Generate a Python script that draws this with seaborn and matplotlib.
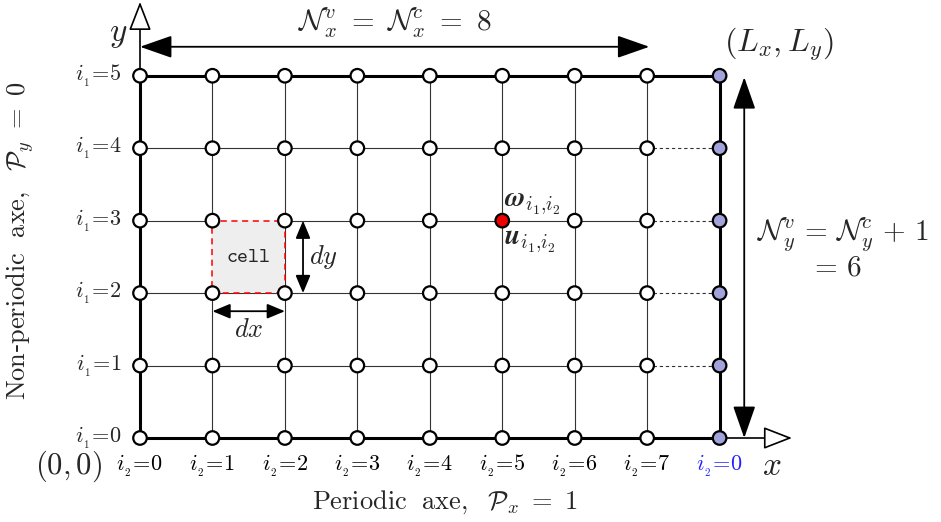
import numpy as np
import pandas as pd
import matplotlib
matplotlib.use("Agg")
import matplotlib.pyplot as plt
import seaborn as sns
from matplotlib.patches import Rectangle, FancyArrowPatch

# grid description
n_cells_x = 8
n_cells_y = 5
col_index = [0, 1, 2, 3, 4, 5, 6, 7, 8]
row_index = [0, 1, 2, 3, 4, 5]
i2_labels = ['0', '1', '2', '3', '4', '5', '6', '7', '0']
i1_labels = ['0', '1', '2', '3', '4', '5']
highlight_node = (5, 3)
cell_corner = (1, 2)

sns.set_theme(style="white")
plt.rcParams['mathtext.fontset'] = 'cm'
plt.rcParams['font.family'] = ['DejaVu Serif']

fig = plt.figure(figsize=(9.41, 5.22), dpi=100)
ax = fig.add_axes([0, 0, 1, 1])
scale = 72.45
ax.set_xlim(-140 / scale, (941 - 140) / scale)
ax.set_ylim(-84 / scale, 438 / scale)
ax.set_aspect('equal')
ax.axis('off')

# thin inner grid lines
for i in col_index[1:-1]:
    ax.plot([i, i], [0, n_cells_y], color='#333333', lw=0.8, zorder=1)
for j in row_index[1:-1]:
    ax.plot([0, n_cells_x - 1], [j, j], color='#333333', lw=0.8, zorder=1)
    ax.plot([n_cells_x - 1, n_cells_x], [j, j], color='#333333', lw=0.8,
            ls=(0, (3, 2.5)), zorder=1)

# thick outer border
ax.plot([0, n_cells_x, n_cells_x, 0, 0], [0, 0, n_cells_y, n_cells_y, 0],
        color='black', lw=2.2, zorder=2, solid_joinstyle='miter')

# the highlighted cell
cx, cy = cell_corner
ax.add_patch(Rectangle((cx, cy), 1, 1, facecolor='#eeeeee', edgecolor='red',
                       lw=1.1, ls=(0, (4, 3)), zorder=1.5))
ax.text(cx + 0.5, cy + 0.5, r'$\mathtt{cell}$', fontsize=15,
        ha='center', va='center', zorder=3)

# nodes
nodes = []
for i in col_index:
    for j in row_index:
        if i == n_cells_x:
            kind = 'periodic'
        elif (i, j) == highlight_node:
            kind = 'value'
        else:
            kind = 'free'
        nodes.append({'x': i, 'y': j, 'kind': kind})
nodes = pd.DataFrame(nodes)
sns.scatterplot(data=nodes, x='x', y='y', hue='kind',
                palette={'free': 'white', 'periodic': '#a3a3dc', 'value': '#ee0000'},
                s=95, edgecolor='black', linewidth=1.6, legend=False, ax=ax, zorder=5)
ax.set_xlabel('')
ax.set_ylabel('')


def arrow(p0, p1, style, fc='black', lw=1.3, ms=20):
    ax.add_patch(FancyArrowPatch(p0, p1, arrowstyle=style, mutation_scale=ms,
                                 facecolor=fc, edgecolor='black', lw=lw,
                                 shrinkA=0, shrinkB=0, zorder=4))


# axes arrows with open heads
arrow((0, n_cells_y), (0, 6.02), '-|>,head_length=0.9,head_width=0.35', fc='white', lw=1.2)
arrow((n_cells_x, 0), (9.0, 0), '-|>,head_length=0.9,head_width=0.35', fc='white', lw=1.2)

# dimension arrows
arrow((0, 5.40), (7.03, 5.40), '<|-|>,head_length=1.0,head_width=0.35')
arrow((8.34, 0), (8.34, 4.98), '<|-|>,head_length=1.0,head_width=0.35')
arrow((2.25, 2), (2.25, 3), '<|-|>,head_length=0.6,head_width=0.25', lw=1.3, ms=18)
arrow((1, 1.75), (2, 1.75), '<|-|>,head_length=0.6,head_width=0.25', lw=1.3, ms=18)

ax.text(2.33, 2.5, r'$dy$', fontsize=19, ha='left', va='center')
ax.text(1.5, 1.5, r'$dx$', fontsize=19, ha='center', va='center')

# node values
hx, hy = highlight_node
ax.text(hx + 0.03, hy + 0.24, r'$\boldsymbol{\omega}_{i_1{,}i_2}$', fontsize=20,
        ha='left', va='center')
ax.text(hx + 0.03, hy - 0.29, r'$\boldsymbol{u}_{i_1{,}i_2}$', fontsize=20,
        ha='left', va='center')

# index labels
for j, lab in zip(row_index, i1_labels):
    ax.text(-0.25, j, r'$i_{_1}\!=\!' + lab + '$', fontsize=16, ha='right', va='center')
for i, lab in zip(col_index, i2_labels):
    ax.text(i, -0.39, r'$i_{_2}\!=\!' + lab + '$', fontsize=16, ha='center', va='center',
            color='#2222ff' if i == n_cells_x else 'black')

# annotations
ax.text(3.52, 5.73, r'$\mathcal{N}^v_x\ =\ \mathcal{N}^c_x\ =\ 8$', fontsize=21,
        ha='center', va='center')
ax.text(8.52, 2.8, r'$\mathcal{N}^v_y\,=\,\mathcal{N}^c_y\,+\,1$', fontsize=21,
        ha='left', va='center')
ax.text(9.6, 2.36, r'$=\,6$', fontsize=21, ha='center', va='center')
ax.text(8.82, 5.43, r'$(L_x, L_y)$', fontsize=23, ha='center', va='center')
ax.text(-0.99, -0.39, r'$(0,0)$', fontsize=22, ha='center', va='center')
ax.text(-0.3, 5.57, r'$y$', fontsize=24, ha='center', va='center')
ax.text(8.72, -0.39, r'$x$', fontsize=24, ha='center', va='center')
ax.text(4.21, -0.88, r'$\mathrm{Periodic\ \ axe,}\ \ \mathcal{P}_x\ =\ 1$', fontsize=19,
        ha='center', va='center')
ax.text(-1.65, 2.73, r'$\mathrm{Non}$-$\mathrm{periodic\ \ axe,}\ \ \mathcal{P}_y\ =\ 0$',
        fontsize=19, ha='center', va='center', rotation=90)

fig.savefig('out.png', dpi=100)
